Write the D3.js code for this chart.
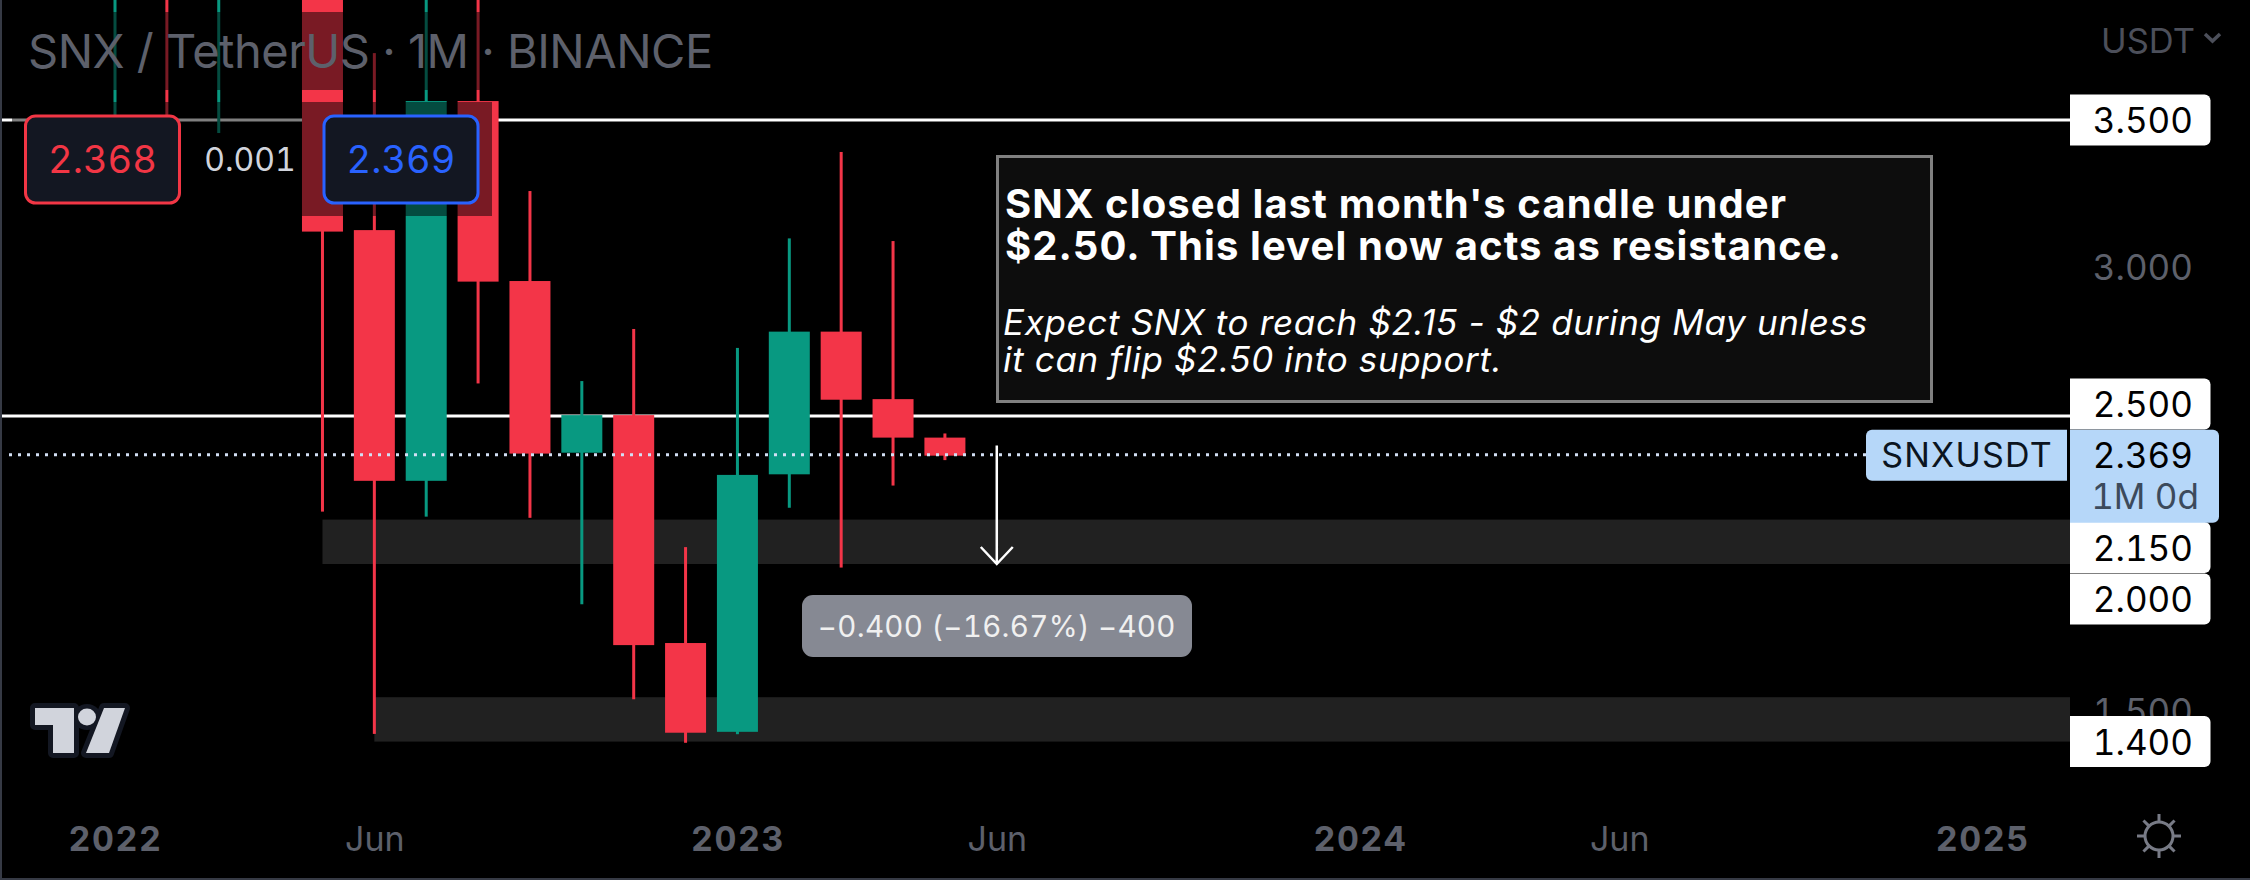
<!DOCTYPE html>
<html>
<head>
<meta charset="utf-8">
<style>
  html, body { margin: 0; background: #000; }
  svg { display: block; font-family: Inter, "Noto Sans", sans-serif; font-variant-numeric: tabular-nums; }
</style>
</head>
<body>
<svg id="chart" width="2250" height="880"></svg>
<script src="https://cdn.jsdelivr.net/npm/d3@7"></script>
<script>
// monthly candles, Jan 2022 onward (first ones run off the top of the pane)
const months = ["2022-01","2022-02","2022-03","2022-04","2022-05","2022-06","2022-07","2022-08","2022-09","2022-10","2022-11","2022-12","2023-01","2023-02","2023-03","2023-04","2023-05"];
const opens  = [4.95, 5.90, 4.90, 7.10, 4.90, 3.128, 2.281, 3.564, 2.956, 2.376, 2.503, 1.733, 1.433, 2.303, 2.785, 2.557, 2.427];
const closes = [5.90, 4.90, 7.10, 4.90, 3.123, 2.281, 3.564, 2.954, 2.373, 2.503, 1.726, 1.430, 2.301, 2.785, 2.555, 2.427, 2.366];
const highs  = [6.90, 6.50, 7.60, 7.40, 5.20, 3.726, 4.10, 4.30, 3.260, 2.618, 2.794, 2.057, 2.730, 3.100, 3.392, 3.091, 2.441];
const lows   = [3.40, 3.40, 3.456, 4.20, 2.177, 1.426, 2.160, 2.610, 2.156, 1.864, 1.543, 1.396, 1.425, 2.190, 1.988, 2.265, 2.351];

const timeTicks  = [0, 5, 12, 17, 24, 29, 36];
const timeLabels = ["2022", "Jun", "2023", "Jun", "2024", "Jun", "2025"];

const priceTicks = [3.0, 1.5];
const levels = [3.5, 2.5];
const lastPrice = 2.369;
const tagValues = [3.5, 2.5, 2.15, 2.0, 1.4];

const zoneTop = [2.15, 1.55];
const zoneBottom = [2.0, 1.4];
const zoneStart = [4, 5];

const targetFrom = 2.4, targetTo = 2.0, targetMonth = 17;

const title = "SNX / TetherUS · 1M · BINANCE";
const noteBold = ["SNX closed last month's candle under", "$2.50. This level now acts as resistance."];
const noteItalic = ["Expect SNX to reach $2.15 - $2 during May unless", "it can flip $2.50 into support."];

const UP = "#089981", DOWN = "#f33548", GREY = "#5d606b";
const plotRight = 2070, bodyWidth = 41, wickWidth = 3;
const tagOffsets = [0, -12, 28, 35, 0]; // tags get pushed apart so they don't overlap

const svg = d3.select("#chart");

const x = d3.scaleLinear().domain([0, 36]).range([115, 1982.3]);
const y = d3.scaleLinear().domain([3.5, 1.4]).range([120, 741.6]);

svg.append("defs").append("clipPath").attr("id", "pane")
  .append("rect").attr("x", 0).attr("y", 0).attr("width", plotRight).attr("height", 800);

const pane = svg.append("g").attr("clip-path", "url(#pane)");

// zones
pane.selectAll(".zone").data(zoneTop).enter().append("rect")
  .attr("x", (d, i) => x(zoneStart[i]))
  .attr("y", d => y(d))
  .attr("width", (d, i) => plotRight - x(zoneStart[i]))
  .attr("height", (d, i) => y(zoneBottom[i]) - y(d))
  .attr("fill", "#212121");

// horizontal levels
pane.selectAll(".level").data(levels).enter().append("line")
  .attr("x1", 2).attr("x2", plotRight)
  .attr("y1", d => y(d)).attr("y2", d => y(d))
  .attr("stroke", "#fff").attr("stroke-width", 3);

// candles
const candle = pane.selectAll(".candle").data(months).enter().append("g")
  .attr("fill", (d, i) => closes[i] >= opens[i] ? UP : DOWN);

candle.append("rect")
  .attr("x", (d, i) => x(i) - wickWidth / 2)
  .attr("y", (d, i) => y(highs[i]))
  .attr("width", wickWidth)
  .attr("height", (d, i) => y(lows[i]) - y(highs[i]));

candle.append("rect")
  .attr("x", (d, i) => x(i) - bodyWidth / 2)
  .attr("y", (d, i) => y(Math.max(opens[i], closes[i])))
  .attr("width", bodyWidth)
  .attr("height", (d, i) => Math.abs(y(opens[i]) - y(closes[i])));

// last price line
pane.append("line")
  .attr("x1", 9).attr("x2", 1866)
  .attr("y1", y(lastPrice)).attr("y2", y(lastPrice))
  .attr("stroke", "#d3e0f5").attr("stroke-width", 3)
  .attr("stroke-dasharray", "3 6");

// target arrow
const ax = x(targetMonth);
svg.append("path")
  .attr("d", `M${ax},${y(targetFrom)}V${y(targetTo)}M${ax - 16},${y(targetTo) - 17}L${ax},${y(targetTo)}L${ax + 16},${y(targetTo) - 17}`)
  .attr("fill", "none").attr("stroke", "#fff").attr("stroke-width", 2.5);

svg.append("rect")
  .attr("x", 802).attr("y", 595).attr("width", 390).attr("height", 62).attr("rx", 11)
  .attr("fill", "#868993");
svg.append("text")
  .attr("x", ax).attr("y", 637).attr("text-anchor", "middle")
  .attr("fill", "#f0f0f0").style("font-size", "29.5px").style("letter-spacing", "0.3px")
  .text(`−${(targetFrom - targetTo).toFixed(3)} (−16.67%) −400`);

// note box
svg.append("rect")
  .attr("x", 997.5).attr("y", 156.5).attr("width", 934).attr("height", 245)
  .attr("fill", "#0d0d0d").attr("stroke", "#808080").attr("stroke-width", 3);

svg.selectAll(".nb").data(noteBold).enter().append("text")
  .attr("x", 1005).attr("y", (d, i) => 218 + i * 42)
  .attr("fill", "#fff").style("font-size", "40px").style("font-weight", 700)
  .style("letter-spacing", "1.1px").style("font-variant-numeric", "normal")
  .text(d => d);

svg.selectAll(".ni").data(noteItalic).enter().append("text")
  .attr("x", 1003).attr("y", (d, i) => 335 + i * 36.5)
  .attr("fill", "#fff").style("font-size", "35px").style("font-style", "italic")
  .style("letter-spacing", "0.65px").style("font-variant-numeric", "normal")
  .text(d => d);

// legend overlays, they dim whatever sits under them
svg.append("rect").attr("x", 12).attr("y", 12).attr("width", 710).attr("height", 78)
  .attr("fill", "#000").attr("opacity", 0.5);
svg.append("rect").attr("x", 12).attr("y", 102).attr("width", 480).attr("height", 114)
  .attr("fill", "#000").attr("opacity", 0.5);

svg.append("text")
  .attr("x", 28).attr("y", 68)
  .attr("fill", GREY).style("font-size", "47px").style("letter-spacing", "-0.5px")
  .style("font-variant-numeric", "normal")
  .text(title);

// bid / ask boxes
const quoteBox = (bx, color, label) => {
  svg.append("rect")
    .attr("x", bx).attr("y", 116).attr("width", 154).attr("height", 87).attr("rx", 10)
    .attr("fill", "#131722").attr("stroke", color).attr("stroke-width", 3);
  svg.append("text")
    .attr("x", bx + 77).attr("y", 173).attr("text-anchor", "middle")
    .attr("fill", color).style("font-size", "38px")
    .text(label);
};
quoteBox(25.5, "#f23645", "2.368");
quoteBox(324, "#2962ff", lastPrice.toFixed(3));
svg.append("text")
  .attr("x", 250).attr("y", 171).attr("text-anchor", "middle")
  .attr("fill", "#d1d4dc").style("font-size", "32px")
  .text("0.001");

// price axis
const priceAxis = d3.axisRight(y)
  .tickValues(priceTicks)
  .tickFormat(d3.format(".3f"))
  .tickSize(0);

const priceG = svg.append("g")
  .attr("transform", "translate(2193,0)")
  .call(priceAxis);
priceG.select(".domain").remove();
priceG.selectAll("text")
  .attr("x", 0).attr("text-anchor", "end")
  .attr("fill", GREY).style("font-family", "Inter").style("font-size", "35px");

const fmt = d3.format(".3f");
const tags = svg.selectAll(".tag").data(tagValues).enter().append("g")
  .attr("transform", (d, i) => `translate(${plotRight},${y(d) + tagOffsets[i]})`);
tags.append("path")
  .attr("d", "M0,-25.5H134.5a6,6 0 0 1 6,6V19.5a6,6 0 0 1 -6,6H0Z")
  .attr("fill", "#fff");
tags.append("text")
  .attr("x", 123).attr("y", 13).attr("text-anchor", "end")
  .attr("fill", "#000").style("font-size", "35px")
  .text(d => fmt(d));

// last price tag
const tagY = y(lastPrice);
svg.append("path")
  .attr("d", `M${plotRight},${tagY - 25}H2213a6,6 0 0 1 6,6V${tagY + 62}a6,6 0 0 1 -6,6H${plotRight}Z`)
  .attr("fill", "#b6d7f9");
svg.append("path")
  .attr("d", `M2067,${tagY - 25}H1872a6,6 0 0 0 -6,6V${tagY + 20}a6,6 0 0 0 6,6H2067Z`)
  .attr("fill", "#b6d7f9");
svg.append("text")
  .attr("x", 1967).attr("y", tagY + 12.5).attr("text-anchor", "middle")
  .attr("fill", "#0b1420").style("font-size", "34px").style("letter-spacing", "1.2px")
  .text("SNXUSDT");
svg.append("text")
  .attr("x", 2193).attr("y", tagY + 13).attr("text-anchor", "end")
  .attr("fill", "#000").style("font-size", "35px")
  .text(lastPrice.toFixed(3));
svg.append("text")
  .attr("x", 2199).attr("y", tagY + 54).attr("text-anchor", "end")
  .attr("fill", "#3c4a5c").style("font-size", "35px")
  .text("1M 0d");

// currency selector
svg.append("text")
  .attr("x", 2195).attr("y", 53).attr("text-anchor", "end")
  .attr("fill", "#4c4f5a").style("font-size", "34.5px")
  .text("USDT");
svg.append("path")
  .attr("d", "M2205,34L2212.5,41L2220,34")
  .attr("fill", "none").attr("stroke", "#4c4f5a").attr("stroke-width", 3.5);

// time axis
const timeAxis = d3.axisBottom(x)
  .tickValues(timeTicks)
  .tickFormat((d, i) => timeLabels[i])
  .tickSize(0);

const timeG = svg.append("g")
  .attr("transform", "translate(0,817)")
  .call(timeAxis);
timeG.select(".domain").remove();
timeG.selectAll("text")
  .attr("fill", GREY)
  .attr("y", 0).attr("dy", "1em")
  .style("font-family", "Inter").style("font-size", "34px")
  .style("letter-spacing", (d, i) => timeLabels[i].length === 4 ? "1.5px" : "0")
  .style("font-weight", (d, i) => timeLabels[i].length === 4 ? 700 : 400);

// tradingview logo
const logo = svg.append("g");
const logoT = "M35,708H74V753H53V725H35Z";
const logoS = "M104,708H125L109,753H86Z";
logo.selectAll(".o").data([logoT, logoS]).enter().append("path")
  .attr("d", d => d)
  .attr("fill", "#131722").attr("stroke", "#131722").attr("stroke-width", 10).attr("stroke-linejoin", "round");
logo.append("ellipse").attr("cx", 87).attr("cy", 717).attr("rx", 14).attr("ry", 13).attr("fill", "#131722");
logo.selectAll(".f").data([logoT, logoS]).enter().append("path")
  .attr("d", d => d).attr("fill", "#d1d4dc");
logo.append("ellipse").attr("cx", 87).attr("cy", 717).attr("rx", 9).attr("ry", 8.5).attr("fill", "#d1d4dc");

// theme switch icon
const sun = svg.append("g").attr("transform", "translate(2159,836)")
  .attr("stroke", "#787b86").attr("stroke-width", 3).attr("fill", "none");
sun.append("circle").attr("r", 14);
sun.selectAll("line").data(d3.range(8)).enter().append("line")
  .attr("y1", -14).attr("y2", -22)
  .attr("transform", d => `rotate(${d * 45})`);

// window edges
svg.append("rect").attr("x", 0).attr("y", 0).attr("width", 2).attr("height", 880).attr("fill", "#363a45");
svg.append("rect").attr("x", 0).attr("y", 878).attr("width", 2250).attr("height", 2).attr("fill", "#363a45");
</script>
</body>
</html>
